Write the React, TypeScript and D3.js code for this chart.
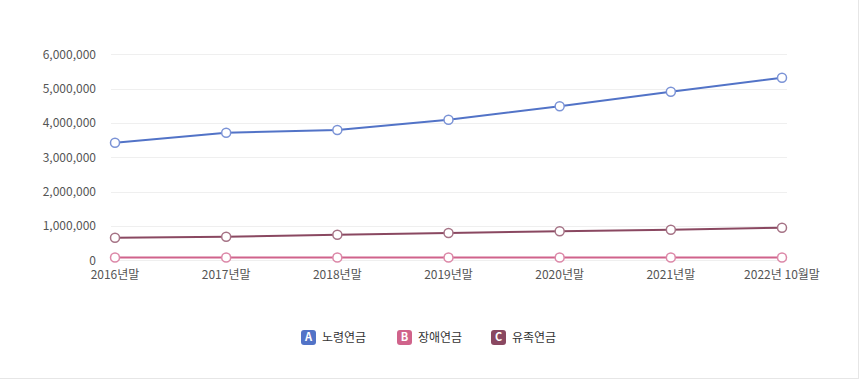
import React from "react";
import * as d3 from "d3";

const categories = ["2016년말", "2017년말", "2018년말", "2019년말", "2020년말", "2021년말", "2022년 10월말"];
const seriesNames = ["노령연금", "장애연금", "유족연금"];
const seriesLetters = ["A", "B", "C"];
const oldAge = [3425000, 3717000, 3795000, 4095000, 4486000, 4911000, 5319000];
const disability = [80000, 80000, 80000, 80000, 80000, 80000, 80000];
const survivor = [655000, 688000, 746000, 795000, 845000, 891000, 950000];
const yTicks = [0, 1000000, 2000000, 3000000, 4000000, 5000000, 6000000];
const colors = ["#5273c7", "#d0638b", "#8a4861"];
const markerStroke = ["#7b93d6", "#dc88a8", "#a57285"];

const W = 860;
const H = 381;
const FONT = "'Noto Sans CJK KR', 'Noto Sans', sans-serif";

export default function App() {
  const x = d3.scalePoint<string>().domain(categories).range([115, 782]);
  const y = d3.scaleLinear().domain([0, 6000000]).range([260.3, 54.3]);
  const fmt = d3.format(",");
  const allSeries = [oldAge, disability, survivor];
  const line = d3
    .line<number>()
    .x((_, i) => x(categories[i]) as number)
    .y((d) => y(d));
  const drawOrder = [1, 2, 0];
  const legendX = [301, 397, 491];

  return (
    <div style={{ position: "absolute", left: 0, top: 0 }}>
      <svg width={W} height={H} style={{ display: "block", fontFamily: FONT }}>
        <rect x={0} y={0} width={W} height={H} fill="#fff" />
        <line x1={858.5} x2={858.5} y1={0} y2={379} stroke="#e6e6e6" />
        <line x1={0} x2={859} y1={378.5} y2={378.5} stroke="#e6e6e6" />
        {yTicks.map((t) => (
          <g key={t}>
            <line x1={111} x2={787} y1={Math.round(y(t)) + 0.5} y2={Math.round(y(t)) + 0.5} stroke="#efefef" />
            <text x={96} y={y(t)} dy="0.35em" textAnchor="end" fontSize={12} fill="#555">
              {fmt(t)}
            </text>
          </g>
        ))}
        {categories.map((c) => (
          <text key={c} x={x(c)} y={279} textAnchor="middle" fontSize={12} fill="#555">
            {c}
          </text>
        ))}
        {drawOrder.map((si) => (
          <g key={si}>
            <path d={line(allSeries[si]) || ""} fill="none" stroke={colors[si]} strokeWidth={2} />
            {allSeries[si].map((v, i) => (
              <circle
                key={i}
                cx={x(categories[i])}
                cy={y(v)}
                r={4.5}
                fill="#fff"
                stroke={markerStroke[si]}
                strokeWidth={1.5}
              />
            ))}
          </g>
        ))}
        {seriesNames.map((n, i) => (
          <g key={n} transform={`translate(${legendX[i]},330)`}>
            <rect x={0} y={0} width={15} height={15} rx={3} fill={colors[i]} />
            <text x={7.5} y={7.5} dy="0.36em" textAnchor="middle" fontSize={11} fontWeight="bold" fill="#fff">
              {seriesLetters[i]}
            </text>
            <text x={21} y={7.5} dy="0.36em" fontSize={12} fill="#333">
              {n}
            </text>
          </g>
        ))}
      </svg>
    </div>
  );
}
